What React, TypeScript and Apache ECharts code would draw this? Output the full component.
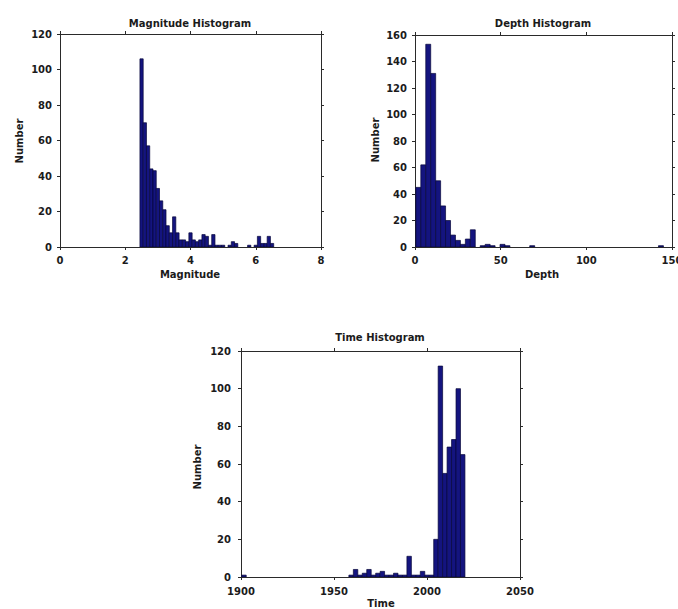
import React, { useEffect, useRef } from "react";
import * as echarts from "echarts";

// Magnitude histogram: bins of 0.1 starting at 2.45
const magStart = 2.45;
const magWidth = 0.1;
const magCounts = [
  106, 70, 57, 44, 43, 33, 26, 21, 12, 8, 17, 8, 4, 4, 3, 8, 4, 3, 4, 7, 6, 1, 7,
  1, 1, 1, 0, 1, 3, 2, 0, 0, 0, 1, 0, 1, 6, 2, 2, 6, 2,
];

// Depth histogram: 50 bins
const depthStart = 0.5;
const depthWidth = 2.89;
const depthCounts = [
  45, 62, 153, 131, 50, 31, 20, 9, 5, 2, 6, 13, 0, 1, 2, 1, 0, 2, 1, 0, 0, 0, 0, 1,
  0, 0, 0, 0, 0, 0, 0, 0, 0, 0, 0, 0, 0, 0, 0, 0, 0, 0, 0, 0, 0, 0, 0, 0, 0, 1,
];

// Time histogram: 50 bins
const timeStart = 1900.4;
const timeWidth = 2.4;
const timeCounts = [
  1, 0, 0, 0, 0, 0, 0, 0, 0, 0, 0, 0, 0, 0, 0, 0, 0, 0, 0, 0, 0, 0, 0, 0, 1, 4, 1,
  2, 4, 1, 2, 3, 1, 1, 2, 1, 1, 11, 1, 1, 3, 1, 1, 20, 112, 55, 69, 73, 100, 65,
];

const magXTicks = { min: 0, max: 8, interval: 2 };
const magYTicks = { min: 0, max: 120, interval: 20 };
const depthXTicks = { min: 0, max: 150, interval: 50 };
const depthYTicks = { min: 0, max: 160, interval: 20 };
const timeXTicks = { min: 1900, max: 2050, interval: 50 };
const timeYTicks = { min: 0, max: 120, interval: 20 };

const FONT = "DejaVu Sans";
const TEXT_COLOR = "#1b1b1b";
const AXIS_COLOR = "#2a2a2a";
const BAR_FILL = "#14147f";
const BAR_STROKE = "#06063a";

function bins(start: number, width: number, counts: number[]) {
  const out: number[][] = [];
  counts.forEach((c, i) => {
    if (c > 0) out.push([start + i * width, start + (i + 1) * width, c]);
  });
  return out;
}

function axisCommon(show: boolean, margin: number, centerEnds = false) {
  const lab: any = {
    show,
    margin,
    fontFamily: FONT,
    fontSize: 10,
    fontWeight: "bold",
    color: TEXT_COLOR,
    formatter: (v: number) => String(v),
  };
  if (centerEnds) {
    lab.alignMinLabel = "center";
    lab.alignMaxLabel = "center";
  }
  return {
    type: "value",
    axisLine: { show: true, onZero: false, lineStyle: { color: AXIS_COLOR, width: 1 } },
    axisTick: { show: true, inside: false, length: 3, lineStyle: { color: AXIS_COLOR, width: 1 } },
    splitLine: { show: false },
    axisLabel: lab,
  };
}

function buildAxes(
  gridIndex: number,
  xt: { min: number; max: number; interval: number },
  yt: { min: number; max: number; interval: number },
  xMargin: number,
  yMargin: number
) {
  const xAxes = [
    { ...axisCommon(true, xMargin, true), gridIndex, position: "bottom", ...xt },
    { ...axisCommon(false, xMargin), gridIndex, position: "top", ...xt },
  ];
  const yAxes = [
    { ...axisCommon(true, yMargin), gridIndex, position: "left", ...yt },
    { ...axisCommon(false, yMargin), gridIndex, position: "right", ...yt },
  ];
  return { xAxes, yAxes };
}

function histSeries(data: number[][], axisIndex: number) {
  return {
    type: "custom",
    xAxisIndex: axisIndex,
    yAxisIndex: axisIndex,
    encode: { x: [0, 1], y: 2 },
    clip: true,
    data,
    renderItem: (_params: any, api: any) => {
      const p0 = api.coord([api.value(0), 0]);
      const p1 = api.coord([api.value(1), api.value(2)]);
      return {
        type: "rect",
        shape: { x: p0[0], y: p1[1], width: p1[0] - p0[0], height: p0[1] - p1[1] },
        style: { fill: BAR_FILL, stroke: BAR_STROKE, lineWidth: 0.7 },
      };
    },
  };
}

function label(text: string, x: number, y: number, rotate = false) {
  return {
    type: "text",
    x,
    y,
    rotation: rotate ? Math.PI / 2 : 0,
    style: {
      text,
      fontFamily: FONT,
      fontSize: 10,
      fontWeight: "bold",
      fill: TEXT_COLOR,
      textAlign: "center",
      textVerticalAlign: "middle",
    },
  };
}

export default function App() {
  const ref = useRef<HTMLDivElement>(null);
  useEffect(() => {
    if (!ref.current) return;
    const chart = echarts.init(ref.current, null, { renderer: "svg" });
    const a0 = buildAxes(0, magXTicks, magYTicks, 8, 8);
    const a1 = buildAxes(1, depthXTicks, depthYTicks, 8, 8);
    const a2 = buildAxes(2, timeXTicks, timeYTicks, 9, 10);
    const xAxis = [...a0.xAxes, ...a1.xAxes, ...a2.xAxes];
    const yAxis = [...a0.yAxes, ...a1.yAxes, ...a2.yAxes];
    chart.setOption({
      animation: false,
      backgroundColor: "#ffffff",
      grid: [
        { left: 60, top: 34, width: 261, height: 213, outerBoundsMode: "none" },
        { left: 415, top: 35, width: 257, height: 212, outerBoundsMode: "none" },
        { left: 241, top: 351, width: 279, height: 226, outerBoundsMode: "none" },
      ],
      xAxis,
      yAxis,
      series: [
        histSeries(bins(magStart, magWidth, magCounts), 0),
        histSeries(bins(depthStart, depthWidth, depthCounts), 2),
        histSeries(bins(timeStart, timeWidth, timeCounts), 4),
      ],
      graphic: [
        label("Magnitude Histogram", 190, 23),
        label("Depth Histogram", 543, 23),
        label("Time Histogram", 380, 337),
        label("Magnitude", 190, 274),
        label("Depth", 542, 274),
        label("Time", 381, 603),
        label("Number", 19, 141, true),
        label("Number", 375, 140, true),
        label("Number", 197, 467, true),
      ],
    });
    return () => chart.dispose();
  }, []);
  return (
    <div
      ref={ref}
      style={{ position: "fixed", left: 0, top: 0, width: 678, height: 609, background: "#fff" }}
    />
  );
}
